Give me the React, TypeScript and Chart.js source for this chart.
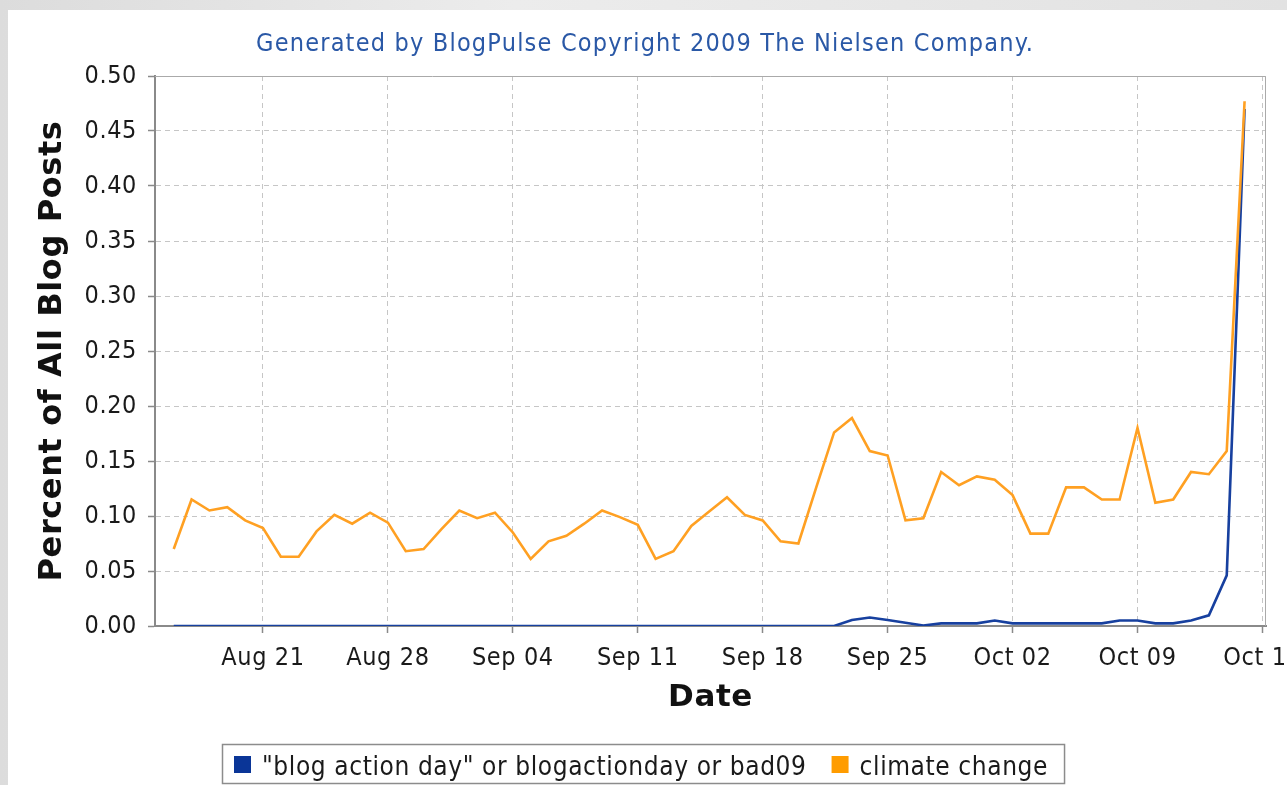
import React, { useEffect, useRef } from "react";
import { Chart, registerables } from "chart.js";

Chart.register(...registerables);

const TITLE = "Generated by BlogPulse Copyright 2009 The Nielsen Company.";
const X_TITLE = "Date";
const Y_TITLE = "Percent of All Blog Posts";
const SERIES_NAMES = ['"blog action day" or blogactionday or bad09', "climate change"];
const SERIES_COLORS = ["#17409f", "#ffa022"];
const SWATCH_COLORS = ["#0a3597", "#ff9c00"];

// daily values, 2009-08-16 .. 2009-10-15 (x = days since Aug 16)
const BLOG_ACTION_DAY = [
  0, 0, 0, 0, 0, 0, 0, 0, 0, 0, 0, 0, 0, 0, 0, 0,
  0, 0, 0, 0, 0, 0, 0, 0, 0, 0, 0, 0, 0, 0, 0, 0, 0, 0, 0, 0, 0, 0,
  0.0055, 0.0077, 0.0055, 0.003, 0.0005, 0.0024, 0.0024, 0.0024,
  0.005, 0.0024, 0.0024, 0.0024, 0.0024, 0.0024, 0.0024, 0.005, 0.005,
  0.0024, 0.0024, 0.005, 0.0097, 0.046, 0.47,
];
const CLIMATE_CHANGE = [
  0.070, 0.115, 0.105, 0.108, 0.096, 0.089, 0.063, 0.063, 0.086, 0.101,
  0.093, 0.103, 0.094, 0.068, 0.070, 0.088,
  0.105, 0.098, 0.103, 0.085, 0.061, 0.077, 0.082, 0.093, 0.105, 0.099,
  0.092, 0.061, 0.068, 0.091, 0.104, 0.117, 0.101, 0.096, 0.077, 0.075,
  0.126, 0.176, 0.189, 0.159, 0.155, 0.096, 0.098, 0.140, 0.128, 0.136,
  0.133, 0.119, 0.084, 0.084, 0.126, 0.126, 0.115, 0.115, 0.180, 0.112,
  0.115, 0.140, 0.138, 0.159, 0.477,
];
const X_TICK_DAYS = [5, 12, 19, 26, 33, 40, 47, 54, 61];
const X_TICK_LABELS = ["Aug 21", "Aug 28", "Sep 04", "Sep 11", "Sep 18", "Sep 25", "Oct 02", "Oct 09", "Oct 16"];
const Y_TICKS = [0, 0.05, 0.1, 0.15, 0.2, 0.25, 0.3, 0.35, 0.4, 0.45, 0.5];
const X_MIN = -1.05;
const X_MAX = 61.2;

const FONT = '"DejaVu Sans Condensed", "DejaVu Sans", sans-serif';
const BOLD_FONT = '"DejaVu Sans", sans-serif';

const setLS = (ctx: any, v: string) => {
  if ("letterSpacing" in ctx) ctx.letterSpacing = v;
};

const decor = {
  id: "decor",
  beforeUpdate(chart: any) {
    setLS(chart.ctx, "0.6px");
  },
  beforeDraw(chart: any) {
    setLS(chart.ctx, "0.6px");
  },
  beforeDatasetsDraw(chart: any) {
    const { ctx, chartArea: a } = chart;
    ctx.save();
    ctx.strokeStyle = "#aaaaaa";
    ctx.lineWidth = 1;
    ctx.beginPath();
    ctx.moveTo(a.left, a.top + 0.5);
    ctx.lineTo(a.right - 0.5, a.top + 0.5);
    ctx.lineTo(a.right - 0.5, a.bottom);
    ctx.stroke();
    ctx.restore();
  },
  afterDraw(chart: any) {
    const ctx = chart.ctx;
    ctx.save();
    // title
    setLS(ctx, "1.2px");
    ctx.font = `25px ${FONT}`;
    ctx.fillStyle = "#2a58a6";
    ctx.textAlign = "center";
    ctx.textBaseline = "alphabetic";
    ctx.fillText(TITLE, 637, 41);

    // legend
    setLS(ctx, "0.6px");
    ctx.font = `26px ${FONT}`;
    ctx.textAlign = "left";
    const ds = chart.data.datasets;
    const widths = ds.map((d: any) => ctx.measureText(d.label).width);
    const sw = 17;
    const total = 12 + widths.reduce((s: number, w: number) => s + sw + 11 + w, 0) + 25 * (ds.length - 1) + 16;
    const left = Math.round(635 - total / 2);
    const top = 734;
    const bottom = 773;
    ctx.fillStyle = "#ffffff";
    ctx.fillRect(left, top, total, bottom - top);
    ctx.strokeStyle = "#8c8c8c";
    ctx.lineWidth = 1.5;
    ctx.strokeRect(left + 0.5, top + 0.5, total, bottom - top);
    let x = left + 12;
    ds.forEach((d: any, i: number) => {
      ctx.fillStyle = SWATCH_COLORS[i];
      ctx.fillRect(x, 746, sw, sw);
      x += sw + 11;
      ctx.fillStyle = "#1a1a1a";
      ctx.fillText(d.label, x, 765);
      x += widths[i] + 25;
    });
    ctx.restore();
  },
};

export default function App() {
  const ref = useRef<HTMLCanvasElement | null>(null);

  useEffect(() => {
    if (!ref.current) return;
    const tickFont = { family: FONT, size: 25 };
    const gridCommon = {
      color: "#c6c6c6",
      lineWidth: 1,
      tickLength: 7,
      tickColor: "#8a8a8a",
      tickWidth: 1.5,
    };
    const borderCommon = { display: true, color: "#8a8a8a", width: 2, dash: [5, 4] };
    const chart = new Chart(ref.current, {
      type: "line",
      data: {
        datasets: [
          {
            label: SERIES_NAMES[0],
            data: BLOG_ACTION_DAY.map((y, i) => ({ x: i, y })),
            borderColor: SERIES_COLORS[0],
            backgroundColor: SWATCH_COLORS[0],
            borderWidth: 2.6,
            pointRadius: 0,
            tension: 0,
            order: 1,
          },
          {
            label: SERIES_NAMES[1],
            data: CLIMATE_CHANGE.map((y, i) => ({ x: i, y })),
            borderColor: SERIES_COLORS[1],
            backgroundColor: SWATCH_COLORS[1],
            borderWidth: 2.6,
            pointRadius: 0,
            tension: 0,
            order: 0,
          },
        ],
      },
      options: {
        animation: false,
        responsive: false,
        maintainAspectRatio: false,
        layout: { padding: { top: 66, left: 0, right: 82, bottom: 49 } },
        plugins: {
          legend: { display: false },
          title: { display: false },
          tooltip: { enabled: false },
        },
        scales: {
          x: {
            type: "linear",
            min: X_MIN,
            max: X_MAX,
            afterBuildTicks: (s: any) => {
              s.ticks = X_TICK_DAYS.map((v) => ({ value: v }));
            },
            afterFit: (s: any) => {
              s.height = 110;
            },
            ticks: {
              autoSkip: false,
              maxRotation: 0,
              minRotation: 0,
              padding: 10,
              color: "#1a1a1a",
              font: tickFont,
              callback: (v: any) => {
                const k = X_TICK_DAYS.indexOf(Number(v));
                return k >= 0 ? X_TICK_LABELS[k] : "";
              },
            },
            grid: gridCommon,
            border: borderCommon,
            title: {
              display: true,
              text: X_TITLE,
              color: "#111111",
              font: { family: BOLD_FONT, size: 31, weight: "bold", lineHeight: 1 },
              padding: { top: 0, bottom: 23 },
            },
          },
          y: {
            min: 0,
            max: 0.5,
            afterBuildTicks: (s: any) => {
              s.ticks = Y_TICKS.map((v) => ({ value: v }));
            },
            afterFit: (s: any) => {
              s.width = 147;
            },
            ticks: {
              padding: 11,
              color: "#1a1a1a",
              font: tickFont,
              callback: (v: any) => Number(v).toFixed(2),
            },
            grid: gridCommon,
            border: borderCommon,
            title: {
              display: true,
              text: Y_TITLE,
              color: "#111111",
              font: { family: BOLD_FONT, size: 32, weight: "bold", lineHeight: 1 },
              padding: { top: 29, bottom: 0 },
            },
          },
        },
      },
      plugins: [decor],
    } as any);
    return () => chart.destroy();
  }, []);

  return (
    <div
      style={{
        position: "fixed",
        left: 0,
        top: 0,
        width: 1287,
        height: 785,
        overflow: "hidden",
        background: "linear-gradient(90deg, #dcdcdc, #ececec 40%, #e2e2e2)",
      }}
    >
      <div style={{ position: "absolute", left: 8, top: 10, width: 1340, height: 775, background: "#ffffff" }}>
        <canvas ref={ref} width={1340} height={775} style={{ display: "block", width: 1340, height: 775 }} />
      </div>
    </div>
  );
}
